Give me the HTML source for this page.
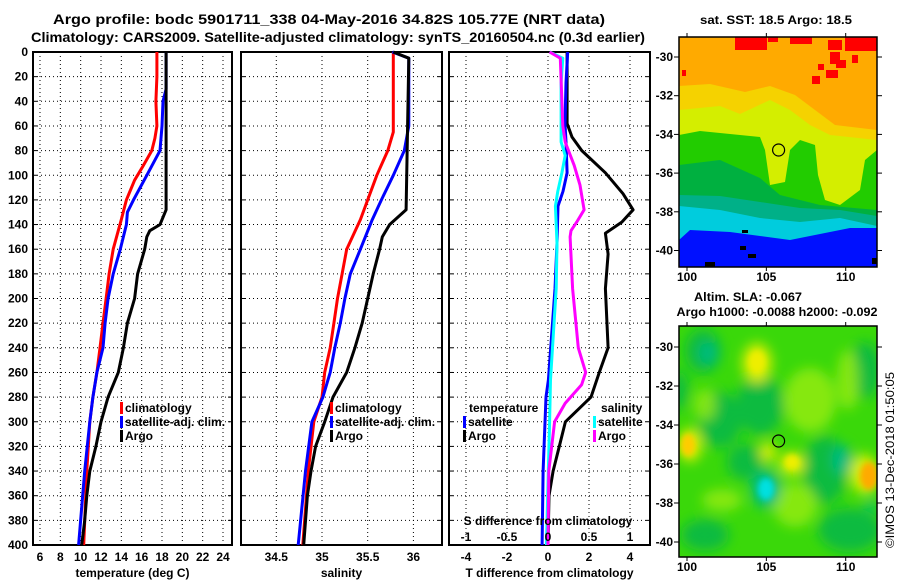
<!DOCTYPE html>
<html><head><meta charset="utf-8"><style>
html,body{margin:0;padding:0;background:#fff;}
svg{display:block;}
text{font-family:"Liberation Sans",sans-serif;font-weight:bold;fill:#000;}
</style></head><body>
<svg id="root" width="900" height="580" viewBox="0 0 900 580" xmlns="http://www.w3.org/2000/svg">
<defs>
<clipPath id="clipTop"><rect x="679" y="37" width="198" height="230"/></clipPath>
<clipPath id="clipBot"><rect x="679" y="326" width="198" height="231"/></clipPath>
<filter id="blur" x="-50%" y="-50%" width="200%" height="200%"><feGaussianBlur stdDeviation="6"/></filter>
<filter id="blur2" x="-50%" y="-50%" width="200%" height="200%"><feGaussianBlur stdDeviation="3"/></filter>
</defs>
<text x="329" y="24" font-size="14" text-anchor="middle" textLength="552" lengthAdjust="spacingAndGlyphs">Argo profile: bodc 5901711_338 04-May-2016 34.82S 105.77E (NRT data)</text>
<text x="338" y="42" font-size="14" text-anchor="middle" textLength="614" lengthAdjust="spacingAndGlyphs">Climatology: CARS2009. Satellite-adjusted climatology: synTS_20160504.nc (0.3d earlier)</text>

<g id="charts"></g>

<!-- SST map -->
<g>
<text x="776" y="24" font-size="12" text-anchor="middle" textLength="152" lengthAdjust="spacingAndGlyphs">sat. SST: 18.5 Argo: 18.5</text>
<g clip-path="url(#clipTop)">
<rect x="679" y="37" width="198" height="230" fill="#ffaa00"/>
<g fill="#ff0000">
<rect x="735" y="37" width="32" height="13"/><rect x="768" y="37" width="10" height="5"/><rect x="790" y="37" width="22" height="7"/>
<rect x="845" y="37" width="32" height="14"/><rect x="828" y="40" width="14" height="10"/><rect x="830" y="52" width="10" height="12"/>
<rect x="836" y="60" width="10" height="8"/><rect x="826" y="70" width="12" height="8"/><rect x="812" y="76" width="8" height="8"/>
<rect x="682" y="70" width="4" height="6"/><rect x="818" y="64" width="6" height="6"/><rect x="852" y="55" width="6" height="8"/>
</g>
<polygon fill="#f5d200" points="679,86 710,84 745,92 770,86 795,95 815,110 835,125 877,130 877,267 679,267"/>
<polygon fill="#d4ee00" points="679,110 720,106 740,114 770,100 790,110 810,125 830,135 877,140 877,267 679,267"/>
<polygon fill="#22cc00" points="679,135 700,131 730,134 760,137 765,150 770,185 785,182 790,150 800,140 815,145 818,175 825,200 840,205 860,190 865,160 877,150 877,267 679,267"/>
<polygon fill="#00b040" points="679,165 720,160 760,178 780,195 820,205 877,210 877,267 679,267"/>
<polygon fill="#00b088" points="679,195 720,196 760,202 800,208 840,210 877,216 877,267 679,267"/>
<polygon fill="#00ccdd" points="679,206 720,210 760,218 800,222 840,218 877,226 877,267 679,267"/>
<polygon fill="#0010ff" points="679,240 690,230 730,232 760,236 790,240 830,232 850,228 877,228 877,267 679,267"/>
<g fill="#000"><rect x="740" y="246" width="6" height="4"/><rect x="748" y="254" width="8" height="4"/><rect x="705" y="262" width="10" height="5"/><rect x="872" y="258" width="5" height="6"/><rect x="742" y="230" width="6" height="3"/></g>
</g>
<rect x="679" y="37" width="198" height="230" fill="none" stroke="#000" stroke-width="1.5"/>
<circle cx="778.6" cy="150" r="6" fill="none" stroke="#000" stroke-width="1.2"/>
<g id="topTicks"></g>
</g>

<!-- SLA map -->
<g>
<text x="748" y="301" font-size="12" text-anchor="middle" textLength="108" lengthAdjust="spacingAndGlyphs">Altim. SLA: -0.067</text>
<text x="777" y="316" font-size="12" text-anchor="middle" textLength="201" lengthAdjust="spacingAndGlyphs">Argo h1000: -0.0088 h2000: -0.092</text>
<g clip-path="url(#clipBot)">
<rect x="679" y="326" width="198" height="231" fill="#3ad80a"/>
<g filter="url(#blur)">
<g fill="#10bb40">
<ellipse cx="703" cy="351" rx="18" ry="22"/><ellipse cx="720" cy="420" rx="22" ry="28"/><ellipse cx="760" cy="405" rx="24" ry="30"/>
<ellipse cx="825" cy="470" rx="22" ry="34"/><ellipse cx="865" cy="370" rx="16" ry="28"/><ellipse cx="850" cy="530" rx="32" ry="22"/>
<ellipse cx="705" cy="535" rx="24" ry="16"/><ellipse cx="745" cy="462" rx="18" ry="18"/><ellipse cx="680" cy="390" rx="8" ry="20"/>
</g>
<g fill="#a0ee10" opacity="0.75">
<ellipse cx="810" cy="400" rx="26" ry="32"/><ellipse cx="848" cy="380" rx="11" ry="30"/><ellipse cx="795" cy="505" rx="22" ry="22"/>
<ellipse cx="722" cy="500" rx="20" ry="11"/><ellipse cx="705" cy="405" rx="11" ry="16"/>
</g>
<g fill="#d6ee00">
<ellipse cx="757" cy="363" rx="15" ry="20"/><ellipse cx="690" cy="445" rx="12" ry="17"/><ellipse cx="792" cy="464" rx="13" ry="12"/><ellipse cx="768" cy="452" rx="8" ry="10"/><ellipse cx="864" cy="474" rx="14" ry="20"/>
</g>
<g fill="#00bb80"><ellipse cx="708" cy="353" rx="9" ry="11"/><ellipse cx="842" cy="460" rx="10" ry="15"/><ellipse cx="871" cy="505" rx="5" ry="6"/><ellipse cx="766" cy="489" rx="15" ry="19"/></g>
</g>
<g filter="url(#blur2)">
<ellipse cx="757" cy="362" rx="8" ry="11" fill="#eeee00"/>
<ellipse cx="688" cy="445" rx="7" ry="11" fill="#ffcc00"/>
<ellipse cx="792" cy="462" rx="7" ry="7" fill="#eeee00"/>
<ellipse cx="869" cy="476" rx="9" ry="14" fill="#ffaa00"/>
<ellipse cx="766" cy="489" rx="8" ry="11" fill="#00e0e0"/>
</g>
</g>
<rect x="679" y="326" width="198" height="231" fill="none" stroke="#000" stroke-width="1.5"/>
<circle cx="778.6" cy="441" r="6" fill="none" stroke="#000" stroke-width="1.2"/>
<g id="botTicks"></g>
</g>
<text x="0" y="0" font-size="12" style="font-weight:normal" text-anchor="middle" transform="translate(894,460) rotate(-90)" textLength="176" lengthAdjust="spacingAndGlyphs">©IMOS 13-Dec-2018 01:50:05</text>
</svg>
<script>
// ---- data ----
const depthTicks = [0,20,40,60,80,100,120,140,160,180,200,220,240,260,280,300,320,340,360,380,400];
const tempTicks = [6,8,10,12,14,16,18,20,22,24];
const salTicks = [34.5,35,35.5,36];
const diffTTicks = [-4,-2,0,2,4];
const diffSTicks = [-1,-0.5,0,0.5,1];
const diffSLabels = ['-1','-0.5','0','0.5','1'];

const tClimDepth = [0,20,40,60,70,80,93,104,120,136,160,180,200,220,240,260,280,300,340,400];
const tClim = [17.5,17.5,17.4,17.5,17.3,17.0,16.1,15.3,14.5,14.0,13.2,12.8,12.5,12.2,11.9,11.6,11.2,10.9,10.6,10.3];
const tSatDepth = [0,30,40,60,80,100,120,130,140,160,180,200,220,240,260,280,300,340,400];
const tSat = [18.4,18.4,18.1,18.0,17.8,16.5,15.2,14.6,14.5,13.9,13.2,12.7,12.4,12.2,11.6,11.2,10.9,10.4,9.8];
const tArgoDepth = [0,128,140,145,150,160,180,200,220,240,260,280,300,320,340,360,380,400];
const tArgo = [18.4,18.4,17.8,16.8,16.5,16.3,15.6,15.3,14.6,14.2,13.7,12.7,12.0,11.5,10.9,10.6,10.4,10.1];

const sClimDepth = [0,65,80,100,120,136,160,180,200,220,240,260,280,300,340,400];
const sClim = [35.78,35.78,35.72,35.6,35.5,35.42,35.27,35.22,35.17,35.13,35.09,35.03,35.0,34.91,34.85,34.79];
const sSatDepth = [0,5,60,80,100,120,136,160,180,200,220,240,260,280,300,340,400];
const sSat = [35.77,35.95,35.95,35.9,35.78,35.65,35.55,35.42,35.31,35.25,35.2,35.14,35.09,35.01,34.89,34.82,34.74];
const sArgoDepth = [0,5,128,140,150,160,180,200,220,240,260,280,300,320,340,360,400];
const sArgo = [35.78,35.95,35.92,35.74,35.66,35.63,35.56,35.5,35.44,35.36,35.27,35.12,35.03,34.93,34.88,34.84,34.8];

const dtArgoDepth = [0,58,69,80,98,115,128,138,147,164,192,240,260,280,300,320,340,360,400];
const dtArgo = [0.93,0.93,1.17,1.65,2.8,3.66,4.15,3.6,2.8,2.93,2.8,2.93,2.5,2.1,0.85,0.55,0.25,0.05,0.0];
const dsArgoDepth = [0,5,60,73,92,108,128,138,145,150,192,240,260,270,285,300,340,400];
const dsArgo = [0.02,0.15,0.18,0.21,0.32,0.39,0.44,0.35,0.28,0.27,0.30,0.37,0.46,0.41,0.21,0.08,0.01,0];
const dtSatDepth = [0,25,58,73,98,113,125,155,192,266,280,340,400];
const dtSat = [0.96,0.88,0.83,0.88,0.93,0.73,0.49,0.44,0.34,0.02,-0.1,-0.24,-0.29];
const dsSatDepth = [0,5,25,73,84,98,113,125,155,192,266,300,400];
const dsSat = [0.02,0.18,0.16,0.16,0.21,0.17,0.12,0.09,0.11,0.10,0.03,0.02,-0.02];

const mapLatTicks = [-30,-32,-34,-36,-38,-40];
const mapLonTicks = [100,105,110];

// ---- scales ----
const NS = 'http://www.w3.org/2000/svg';
const yD = d => 52 + d * 493 / 400;
const xT = t => 40 + (t - 6) * 183 / 18;
const xS = s => 322 + (s - 35) * 91.4;
const xDT = v => 548 + v * 20.5;
const xDS = v => 548 + v * 82;
const lonX = lon => 687 + (lon - 100) * 15.87;
const latYTop = lat => 57 + (-30 - lat) * 19.35;
const latYBot = lat => 347 + (-30 - lat) * 19.5;

const root = document.getElementById('charts');
function mk(tag, attrs, parent) {
  const e = document.createElementNS(NS, tag);
  for (const k in attrs) e.setAttribute(k, attrs[k]);
  (parent || root).appendChild(e);
  return e;
}
function txt(x, y, s, anchor, parent, size) {
  const e = mk('text', {x: x, y: y, 'font-size': size || 12, 'text-anchor': anchor || 'middle'}, parent);
  e.textContent = s;
  return e;
}

const panels = [
  {x0: 33, x1: 232, ticks: tempTicks, labels: tempTicks.map(String), xf: xT, title: 'temperature (deg C)', name: 'temperature-panel'},
  {x0: 241, x1: 442, ticks: salTicks, labels: salTicks.map(String), xf: xS, title: 'salinity', name: 'salinity-panel'},
  {x0: 449, x1: 650, ticks: diffTTicks, labels: diffTTicks.map(String), xf: xDT, title: 'T difference from climatology', name: 'difference-panel'}
];

panels.forEach((p, pi) => {
  const g = mk('g', {});
  
  
  depthTicks.forEach(d => {
    if (d === 0 || d === 400) return;
    const l = mk('line', {x1: p.x0, x2: p.x1, y1: yD(d), y2: yD(d), stroke: '#000', 'stroke-width': 1, 'stroke-dasharray': '1,3'}, g);
    
    
    mk('line', {x1: p.x0, x2: p.x0 + 4, y1: yD(d), y2: yD(d), stroke: '#000', 'stroke-width': 1}, g);
    mk('line', {x1: p.x1 - 4, x2: p.x1, y1: yD(d), y2: yD(d), stroke: '#000', 'stroke-width': 1}, g);
  });
  p.ticks.forEach((t, i) => {
    const x = p.xf(t);
    const l = mk('line', {x1: x, x2: x, y1: 52, y2: 545, stroke: '#000', 'stroke-width': 1, 'stroke-dasharray': '1,3'}, g);
    
    
    const lab = txt(x, 561, p.labels[i], 'middle', g);
    
    
  });
  const fr = mk('rect', {x: p.x0, y: 52, width: p.x1 - p.x0, height: 493, fill: 'none', stroke: '#000', 'stroke-width': 2}, g);
  
  
  const tl = txt((p.x0 + p.x1) / 2, 577, p.title, 'middle', g);
  
  
});

depthTicks.forEach(d => {
  const e = txt(28, yD(d) + 4, String(d), 'end');
  
  
});

function series(depths, vals, xf, color, name) {
  const pts = depths.map((d, i) => xf(vals[i]).toFixed(1) + ',' + yD(d).toFixed(1)).join(' ');
  const e = mk('polyline', {points: pts, fill: 'none', stroke: color, 'stroke-width': 3, 'stroke-linejoin': 'round'});
  
  
}
series(tClimDepth, tClim, xT, '#ff0000', 'temperature-climatology-line');
series(tSatDepth, tSat, xT, '#0000ff', 'temperature-satellite-line');
series(tArgoDepth, tArgo, xT, '#000000', 'temperature-argo-line');
series(sClimDepth, sClim, xS, '#ff0000', 'salinity-climatology-line');
series(sSatDepth, sSat, xS, '#0000ff', 'salinity-satellite-line');
series(sArgoDepth, sArgo, xS, '#000000', 'salinity-argo-line');
series(dtArgoDepth, dtArgo, xDT, '#000000', 'temp-diff-argo-line');
series(dtSatDepth, dtSat, xDT, '#0000ff', 'temp-diff-satellite-line');
series(dsSatDepth, dsSat, xDS, '#00ffff', 'sal-diff-satellite-line');
series(dsArgoDepth, dsArgo, xDS, '#ff00ff', 'sal-diff-argo-line');

function legend(x, y, color, label) {
  const b = mk('rect', {x: x, y: y - 6, width: 3, height: 12, fill: color});
  
  
  const t = txt(x + 5, y + 4, label, 'start');
  
  
}
legend(120, 408, '#ff0000', 'climatology');
legend(120, 422, '#0000ff', 'satellite-adj. clim.');
legend(120, 436, '#000000', 'Argo');
legend(330, 408, '#ff0000', 'climatology');
legend(330, 422, '#0000ff', 'satellite-adj. clim.');
legend(330, 436, '#000000', 'Argo');
const lt = txt(469, 412, 'temperature', 'start');


const ls = txt(601, 412, 'salinity', 'start');


legend(463, 422, '#0000ff', 'satellite');
legend(463, 436, '#000000', 'Argo');
legend(593, 422, '#00ffff', 'satellite');
legend(593, 436, '#ff00ff', 'Argo');

const sd = txt(548, 525, 'S difference from climatology', 'middle');


diffSTicks.forEach((v, i) => {
  const e = txt(xDS(v), 541, diffSLabels[i], 'middle');
  
  
});

function mapTicks(gid, latY, y0, y1, lonLabelY) {
  const g = document.getElementById(gid);
  mapLatTicks.forEach(lat => {
    const y = latY(lat);
    mk('line', {x1: 674, x2: 679, y1: y, y2: y, stroke: '#000', 'stroke-width': 1}, g);
    mk('line', {x1: 877, x2: 882, y1: y, y2: y, stroke: '#000', 'stroke-width': 1}, g);
    const t = txt(673, y + 4, String(lat), 'end', g);
    
    
  });
  mapLonTicks.forEach(lon => {
    const x = lonX(lon);
    mk('line', {x1: x, x2: x, y1: y0 - 4, y2: y0, stroke: '#000', 'stroke-width': 1}, g);
    mk('line', {x1: x, x2: x, y1: y1, y2: y1 + 4, stroke: '#000', 'stroke-width': 1}, g);
    const t = txt(x, lonLabelY, String(lon), 'middle', g);
    
    
  });
}
mapTicks('topTicks', latYTop, 37, 267, 281);
mapTicks('botTicks', latYBot, 326, 557, 571);
</script>
</body></html>
